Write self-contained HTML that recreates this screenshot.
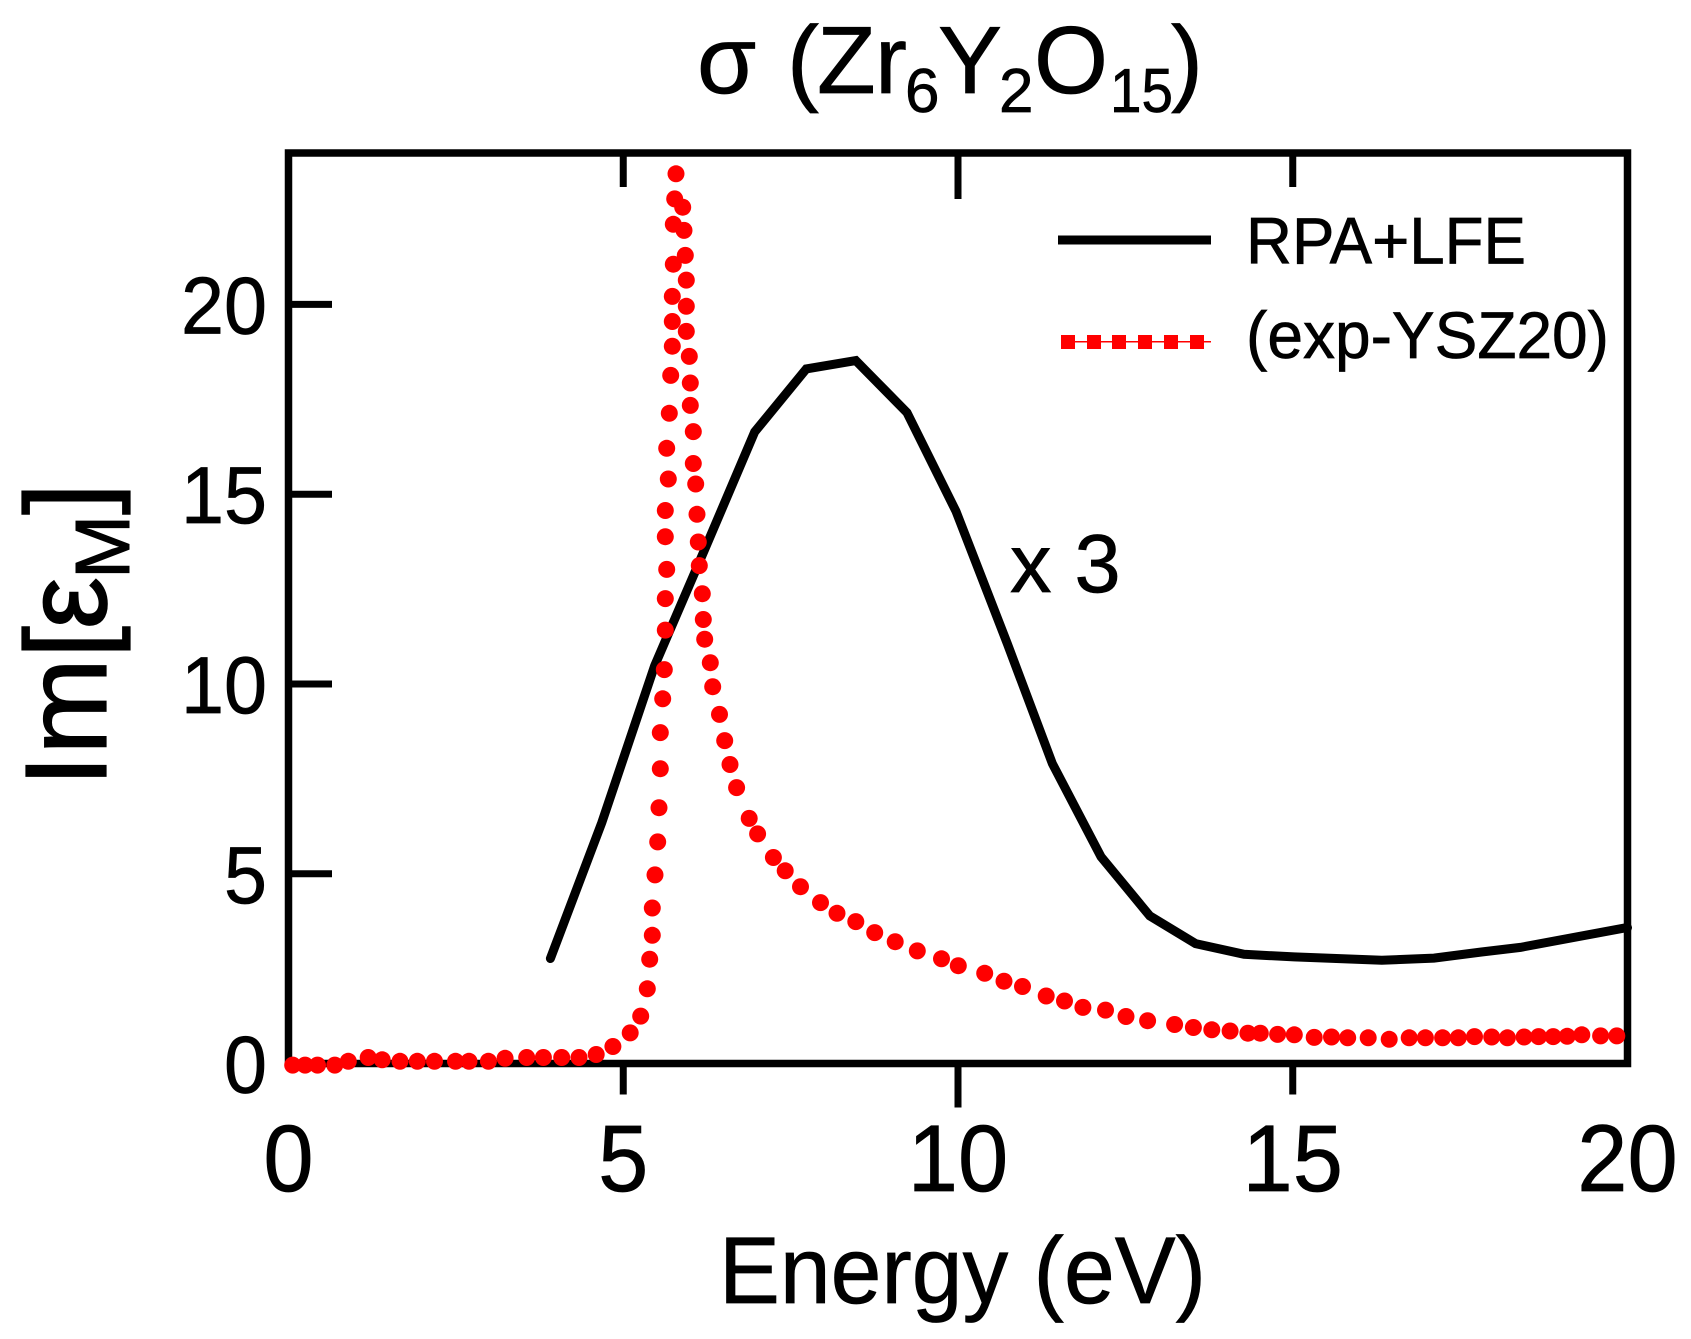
<!DOCTYPE html>
<html lang="en">
<head>
<meta charset="utf-8">
<title>Im[εM] vs Energy</title>
<style>
html,body{margin:0;padding:0;background:#fff;}
svg{display:block;}
text{font-family:"Liberation Sans","DejaVu Sans",sans-serif;fill:#000;stroke:#000;stroke-width:0.7;}
</style>
</head>
<body>
<svg id="chart" xmlns="http://www.w3.org/2000/svg" width="1691" height="1339" viewBox="0 0 1691 1339">
  <rect x="0" y="0" width="1691" height="1339" fill="#fff"/>
  <g id="plot"></g>
  <g font-size="96">
    <text x="697" y="93">σ</text>
    <text x="787" y="93">(</text>
    <text x="817" y="93">Z</text>
    <text x="875" y="93">r</text>
    <text x="905" y="112" font-size="62">6</text>
    <text x="938" y="93">Y</text>
    <text x="999" y="112" font-size="62">2</text>
    <text x="1034" y="93" textLength="74" lengthAdjust="spacingAndGlyphs">O</text>
    <text x="1110" y="112" font-size="62" textLength="63" lengthAdjust="spacingAndGlyphs">15</text>
    <text x="1171" y="93">)</text>
  </g>
  <g transform="translate(106,778)">
    <g transform="rotate(-90)">
      <text x="-9" y="0" font-size="116" style="stroke-width:1.2">Im[</text>
      <text x="149" y="0" font-size="116" style="stroke-width:1.6">ε</text>
      <text x="199" y="23" font-size="77" style="stroke-width:1">M</text>
      <text x="263" y="0" font-size="116" style="stroke-width:1.2">]</text>
    </g>
  </g>
  <text x="719" y="1303" font-size="95" textLength="487" lengthAdjust="spacingAndGlyphs">Energy (eV)</text>
  <text x="1010" y="592" font-size="83">x 3</text>
  <g>
    <rect x="1058" y="235.5" width="153" height="9" fill="#000"/>
    <text x="1246" y="263.5" font-size="66" textLength="280" lengthAdjust="spacingAndGlyphs">RPA+LFE</text>
    <rect x="1061" y="341" width="150" height="1.5" fill="#f00"/>
    <rect x="1061" y="335" width="14" height="14" fill="#f00"/>
    <rect x="1087" y="335" width="14" height="14" fill="#f00"/>
    <rect x="1112" y="335" width="14" height="14" fill="#f00"/>
    <rect x="1138" y="335" width="14" height="14" fill="#f00"/>
    <rect x="1164" y="335" width="14" height="14" fill="#f00"/>
    <rect x="1190" y="335" width="14" height="14" fill="#f00"/>
    <text x="1246" y="358" font-size="66" textLength="363" lengthAdjust="spacingAndGlyphs">(exp-YSZ20)</text>
  </g>
</svg>
<script>
const xTickValues = [0, 5, 10, 15, 20];
const yTickValues = [0, 5, 10, 15, 20];
const xTickLabels = ["0", "5", "10", "15", "20"];
const yTickLabels = ["0", "5", "10", "15", "20"];
const xDomain = [0, 20];
const yDomain = [0, 24];

const rpaEnergy = [3.912, 4.68, 5.468, 6.21, 6.963, 7.734, 8.473, 9.238, 9.97, 10.74, 11.41, 12.136, 12.865, 13.549, 14.272, 15.02, 16.33, 17.11, 17.82, 18.4, 19.95, 20];
const rpaValue = [2.77, 6.35, 10.48, 13.52, 16.64, 18.30, 18.52, 17.15, 14.55, 11.05, 7.90, 5.45, 3.89, 3.16, 2.88, 2.81, 2.72, 2.78, 2.94, 3.06, 3.57, 3.58];

const expEnergy = [0.063, 0.248, 0.433, 0.692, 0.893, 1.19, 1.40, 1.665, 1.924, 2.181, 2.494, 2.696, 2.986, 3.235, 3.558, 3.807, 4.081, 4.339, 4.596, 4.845, 5.104, 5.261, 5.359, 5.395, 5.434, 5.434, 5.474, 5.515, 5.534, 5.553, 5.553, 5.589, 5.613, 5.628, 5.628, 5.649, 5.628, 5.628, 5.673, 5.649, 5.688, 5.709, 5.733, 5.733, 5.733, 5.748, 5.748, 5.769, 5.788, 5.888, 5.907, 5.927, 5.942, 5.942, 5.942, 5.987, 6.002, 6.002, 6.046, 6.046, 6.082, 6.102, 6.121, 6.136, 6.181, 6.196, 6.217, 6.300, 6.336, 6.438, 6.515, 6.594, 6.693, 6.881, 7.007, 7.243, 7.419, 7.647, 7.946, 8.193, 8.473, 8.756, 9.062, 9.392, 9.753, 10.004, 10.399, 10.687, 10.963, 11.317, 11.591, 11.866, 12.203, 12.509, 12.832, 13.235, 13.516, 13.791, 14.064, 14.330, 14.515, 14.774, 15.023, 15.320, 15.579, 15.821, 16.127, 16.441, 16.739, 16.981, 17.238, 17.473, 17.715, 17.971, 18.206, 18.455, 18.672, 18.890, 19.099, 19.317, 19.598, 19.840];
const expValue = [-0.04, -0.04, -0.04, -0.04, 0.06, 0.16, 0.10, 0.06, 0.06, 0.06, 0.06, 0.06, 0.06, 0.14, 0.16, 0.16, 0.16, 0.16, 0.24, 0.45, 0.81, 1.25, 1.97, 2.75, 3.38, 4.10, 4.97, 5.84, 6.74, 7.77, 8.72, 9.61, 10.38, 11.42, 12.25, 13.02, 13.88, 14.57, 15.40, 16.21, 17.13, 18.13, 18.90, 19.55, 20.21, 21.06, 22.11, 22.78, 23.44, 22.56, 21.95, 21.29, 20.64, 19.95, 19.29, 18.63, 17.93, 17.34, 16.65, 15.81, 15.27, 14.47, 13.74, 13.12, 12.38, 11.70, 11.18, 10.56, 9.93, 9.20, 8.51, 7.88, 7.27, 6.46, 6.05, 5.43, 5.08, 4.66, 4.24, 3.96, 3.74, 3.45, 3.21, 2.97, 2.76, 2.58, 2.38, 2.17, 2.03, 1.78, 1.65, 1.48, 1.41, 1.24, 1.13, 1.03, 0.95, 0.89, 0.86, 0.80, 0.80, 0.77, 0.76, 0.69, 0.70, 0.68, 0.68, 0.64, 0.68, 0.68, 0.68, 0.68, 0.71, 0.70, 0.68, 0.70, 0.71, 0.71, 0.72, 0.76, 0.73, 0.73];

const NS = "http://www.w3.org/2000/svg";
const plot = document.getElementById("plot");
const frameLeft = 288.5, frameRight = 1627.5, frameBottom = 1063.5, frameTop = 153;
const zeroY = 1063.6;
const pxPerY = 37.96;

function xScale(v) {
  return frameLeft + (v - xDomain[0]) / (xDomain[1] - xDomain[0]) * (frameRight - frameLeft);
}
function yScale(v) {
  return zeroY - (v - yDomain[0]) * pxPerY;
}
function make(tag, attrs, parent) {
  const el = document.createElementNS(NS, tag);
  for (const k in attrs) el.setAttribute(k, attrs[k]);
  parent.appendChild(el);
  return el;
}

// x ticks (bottom + top), longer at the centre tick
xTickValues.forEach(function (v, i) {
  const x = xScale(v);
  const isInner = i > 0 && i < xTickValues.length - 1;
  if (isInner) {
    const len = i === 2 ? 44 : 31;
    const bottom = make("line", {x1: x, x2: x, y1: frameBottom, y2: frameBottom + len, stroke: "#000", "stroke-width": 7}, plot);
    
    
    const top = make("line", {x1: x, x2: x, y1: frameTop, y2: frameTop + (i === 2 ? 46 : 34), stroke: "#000", "stroke-width": 7}, plot);
    
    
  }
  const lab = make("text", {x: x, y: 1191, "font-size": 95, "text-anchor": "middle", textLength: xTickLabels[i].length * 50.2, lengthAdjust: "spacingAndGlyphs"}, plot);
  
  
  lab.textContent = xTickLabels[i];
});

// y ticks
yTickValues.forEach(function (v, i) {
  const y = yScale(v);
  if (i > 0) {
    const t = make("line", {x1: frameLeft, x2: 332, y1: y, y2: y, stroke: "#000", "stroke-width": 7}, plot);
    
    
  }
  const lab = make("text", {x: 267, y: y + 29, "font-size": 81, "text-anchor": "end", textLength: yTickLabels[i].length * 43, lengthAdjust: "spacingAndGlyphs"}, plot);
  
  
  lab.textContent = yTickLabels[i];
});

// frame
const frame = make("rect", {x: frameLeft, y: frameTop, width: frameRight - frameLeft, height: frameBottom - frameTop, fill: "none", stroke: "#000", "stroke-width": 7.5}, plot);



// RPA+LFE curve
const rpaPoints = rpaEnergy.map(function (e, i) {
  return xScale(e).toFixed(1) + "," + yScale(rpaValue[i]).toFixed(1);
}).join(" ");
const rpaLine = make("polyline", {points: rpaPoints, fill: "none", stroke: "#000", "stroke-width": 9, "stroke-linecap": "round", "stroke-linejoin": "miter"}, plot);



// experimental dotted series
expEnergy.forEach(function (e, i) {
  const c = make("circle", {cx: xScale(e).toFixed(1), cy: yScale(expValue[i]).toFixed(1), r: 8.5, fill: "#f00"}, plot);
  
  
});
</script>
</body>
</html>
